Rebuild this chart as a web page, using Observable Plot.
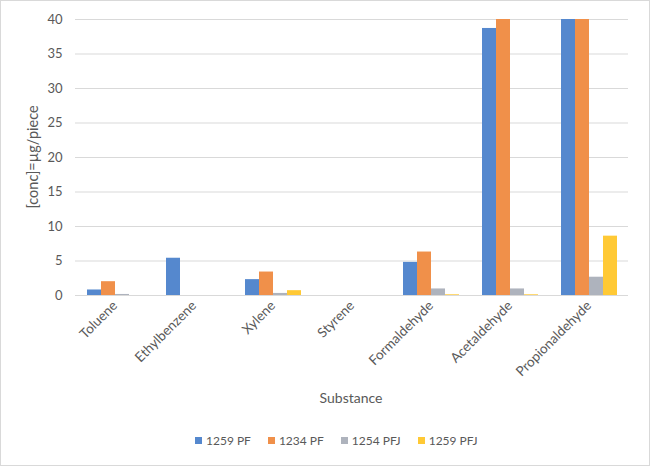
<!DOCTYPE html>
<html><head>
<meta charset="utf-8">
<script src="https://cdn.jsdelivr.net/npm/d3@7"></script>
<script src="https://cdn.jsdelivr.net/npm/@observablehq/plot@0.6"></script>
<style>
body{margin:0;background:#fff;}
#wrap{position:relative;width:650px;height:466px;overflow:hidden;font-family:Lato,sans-serif;background:#fff;color:#595959}
#border{position:absolute;left:0;top:0;width:650px;height:466px;box-sizing:border-box;border:1px solid #d9d9d9;pointer-events:none}
#chart{position:absolute;left:0;top:0}
#ylabel{position:absolute;left:32px;top:157px;font-size:14.5px;white-space:nowrap;transform:translate(-50%,-50%) rotate(-90deg)}
#xlabel{position:absolute;left:351px;top:397px;font-size:14px;white-space:nowrap;transform:translate(-50%,-50%)}
#legend{position:absolute;top:433px;left:195px;display:flex;gap:17px;font-size:12px;align-items:center}
#legend .it{display:flex;align-items:center;gap:4px}
#legend .sw{width:7px;height:7px;display:inline-block}
</style>
</head><body>
<div id="wrap"><div id="chart"></div><div id="ylabel"></div><div id="xlabel"></div><div id="legend"></div><div id="border"></div></div>
<script>
const substances = ["Toluene","Ethylbenzene","Xylene","Styrene","Formaldehyde","Acetaldehyde","Propionaldehyde"];
const series = ["1259 PF","1234 PF","1254 PFJ","1259 PFJ"];
const colors = ["#5588ce","#f0904a","#aeb3bd","#ffc935"];
const v1259PF  = [0.8, 5.4, 2.3, 0, 4.8, 38.7, 40];
const v1234PF  = [2.0, 0,   3.4, 0, 6.3, 40,   40];
const v1254PFJ = [0.15,0,   0.3, 0, 0.95,0.95, 2.65];
const v1259PFJ = [0,   0,   0.7, 0, 0.1, 0.1,  8.6];
const yTicks = [0,5,10,15,20,25,30,35,40];
const yLabel = "[conc]=µg/piece";
const xLabel = "Substance";

const seriesValues = [v1259PF, v1234PF, v1254PFJ, v1259PFJ];
const data = [];
substances.forEach((s,i) => series.forEach((k,j) => data.push({substance:s, series:k, value:seriesValues[j][i]})));

const chart = Plot.plot({
  width: 650, height: 420,
  marginLeft: 72, marginRight: 20, marginTop: 19, marginBottom: 125,
  style: {fontFamily: "Lato, sans-serif", fontSize: "12px", color: "#595959", background: "transparent"},
  fx: {domain: substances, padding: 0},
  x: {domain: series, paddingInner: 0, paddingOuter: 0.8, axis: null},
  y: {domain: [0,40], ticks: yTicks},
  color: {domain: series, range: colors},
  marks: [
    Plot.ruleY(yTicks, {stroke: "#d9d9d9", strokeWidth: 1}),
    Plot.barY(data, {fx: "substance", x: "series", y: "value", fill: "series", inset: 0}),
    Plot.axisY({ticks: yTicks, tickSize: 0, tickPadding: 13, label: null, fontSize: 13}),
    Plot.axisFx({anchor: "bottom", tickSize: 0, tickPadding: 8, tickRotate: -45, label: null, fontSize: 13.5})
  ]
});
document.getElementById("chart").appendChild(chart);
document.getElementById("ylabel").textContent = yLabel;
document.getElementById("xlabel").textContent = xLabel;

const leg = document.getElementById("legend");
series.forEach((s,i) => {
  const it = document.createElement("div"); it.className = "it";
  const sw = document.createElement("span"); sw.className = "sw"; sw.style.background = colors[i];
  const t = document.createElement("span"); t.textContent = s;
  it.appendChild(sw); it.appendChild(t); leg.appendChild(it);
});
</script>
</body></html>
